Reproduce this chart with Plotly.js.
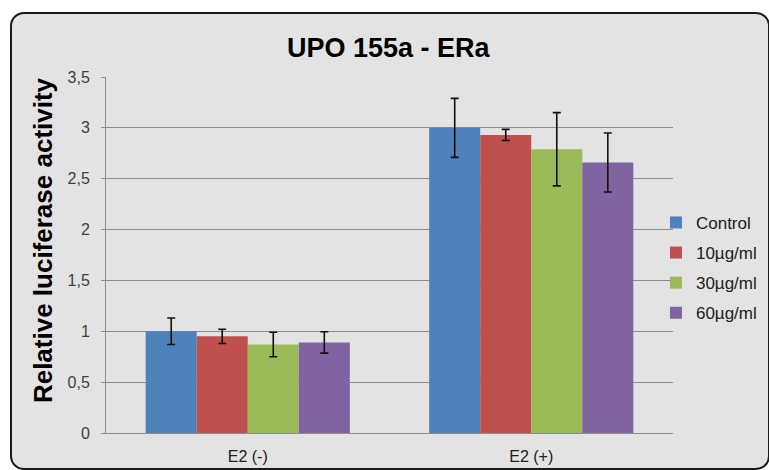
<!DOCTYPE html>
<html>
<head>
<meta charset="utf-8">
<script src="https://cdn.plot.ly/plotly-3.0.1.min.js"></script>
<style>
  html, body { margin: 0; padding: 0; background: #ffffff; }
  #frame { position: absolute; left: 10px; top: 12px; width: 756px; height: 454px;
           border: 2px solid #1a1a1a; border-radius: 14px; background: #e3e3e3; }
  #chart { position: absolute; left: 0; top: 0; width: 769px; height: 470px; }
</style>
</head>
<body>
<div id="frame"></div>
<div id="chart"></div>
<script>
const categories = ['E2 (-)', 'E2 (+)'];
const seriesNames = ['Control', '10µg/ml', '30µg/ml', '60µg/ml'];
const control = [1.00, 3.00];
const c10 = [0.95, 2.93];
const c30 = [0.87, 2.79];
const c60 = [0.89, 2.66];
const errControl = [0.13, 0.29];
const err10 = [0.07, 0.055];
const err30 = [0.12, 0.36];
const err60 = [0.105, 0.29];
const colors = ['#4f81bd', '#c0504d', '#9bbb59', '#8064a2'];

const values = [control, c10, c30, c60];
const errs = [errControl, err10, err30, err60];

const traces = values.map((v, i) => ({
  type: 'bar',
  name: seriesNames[i],
  legendgroup: 'g' + i,
  x: categories,
  y: v,
  marker: { color: colors[i] },
  error_y: { type: 'data', array: errs[i], visible: true, color: '#111111', thickness: 1.6, width: 4 }
}));

const FONT = 'Arial, Liberation Sans, sans-serif';
const layout = {
  width: 769, height: 470,
  margin: { l: 106, r: 96, t: 77, b: 37, autoexpand: false },
  paper_bgcolor: 'rgba(0,0,0,0)',
  plot_bgcolor: 'rgba(0,0,0,0)',
  separators: ',.',
  barmode: 'group',
  bargap: 0.28,
  bargroupgap: 0,
  title: { text: '<b>UPO 155a - ERa</b>', x: 0.505, xanchor: 'center', y: 0.898, yanchor: 'middle',
           font: { family: FONT, size: 27, color: '#000000' } },
  font: { family: FONT, size: 16, color: '#404040' },
  xaxis: {
    showgrid: false, showline: true, linecolor: '#8c8c8c', linewidth: 1,
    ticks: '', ticklabelstandoff: 9,
    tickfont: { size: 16, color: '#202020' }, zeroline: false
  },
  yaxis: {
    range: [0, 3.5], dtick: 0.5, tick0: 0,
    showgrid: true, gridcolor: '#8c8c8c', gridwidth: 1,
    showline: true, linecolor: '#8c8c8c', linewidth: 1,
    ticks: 'outside', ticklen: 4, tickcolor: '#8c8c8c',
    ticklabelstandoff: 8,
    tickfont: { size: 16, color: '#404040' }, zeroline: false
  },
  annotations: [{
    text: '<b>Relative luciferase activity</b>',
    xref: 'paper', yref: 'paper', x: -0.111, y: 0.542,
    xanchor: 'center', yanchor: 'middle', textangle: -90, showarrow: false,
    font: { family: FONT, size: 26, color: '#000000' }
  }],
  legend: {
    xref: 'container', yref: 'container',
    x: 0.853, xanchor: 'left', y: 0.43, yanchor: 'middle',
    bgcolor: 'rgba(0,0,0,0)',
    font: { size: 17, color: '#202020' },
    itemwidth: 30, tracegroupgap: 5
  },
  showlegend: true
};

Plotly.newPlot('chart', traces, layout, { displayModeBar: false, staticPlot: true });
</script>
</body>
</html>
